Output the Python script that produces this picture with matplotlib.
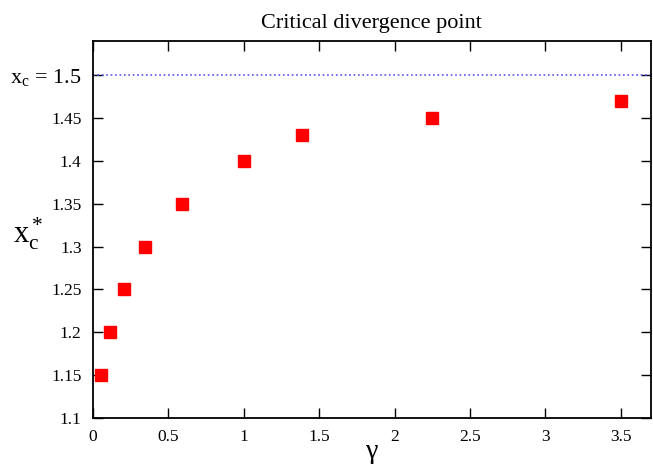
import matplotlib.pyplot as plt

# gamma vs critical divergence point
gamma = [0.055, 0.115, 0.21, 0.345, 0.59, 1.0, 1.39, 2.25, 3.5]
xc_star = [1.15, 1.2, 1.25, 1.3, 1.35, 1.4, 1.43, 1.45, 1.47]
xc_limit = 1.5

x_ticks = [0, 0.5, 1, 1.5, 2, 2.5, 3, 3.5]
x_labels = ['0', '0.5', '1', '1.5', '2', '2.5', '3', '3.5']
y_ticks = [1.1, 1.15, 1.2, 1.25, 1.3, 1.35, 1.4, 1.45, 1.5]
y_labels = ['1.1', '1.15', '1.2', '1.25', '1.3', '1.35', '1.4', '1.45', r'$\mathrm{x_c}$ = 1.5']

plt.rcParams['font.family'] = ['Liberation Serif', 'DejaVu Serif']
plt.rcParams['mathtext.fontset'] = 'custom'
plt.rcParams['mathtext.rm'] = 'Liberation Serif'
plt.rcParams['mathtext.it'] = 'Liberation Serif'

fig = plt.figure(figsize=(6.53, 4.70), dpi=100)
ax = fig.add_axes([0.142, 0.1106, 0.855, 0.8025])

ax.axhline(xc_limit, color='#5555ee', linestyle=':', linewidth=1.2)
ax.plot(gamma, xc_star, 's', color='red', markersize=9, linestyle='none')

ax.set_xlim(0, 3.7)
ax.set_ylim(1.1, 1.54)
ax.set_xticks(x_ticks)
ax.set_xticklabels(x_labels)
ax.set_yticks(y_ticks)
ax.set_yticklabels(y_labels)
ax.tick_params(direction='in', top=True, right=True, length=7, width=1, labelsize=12.5, pad=8)
ax.get_yticklabels()[-1].set_fontsize(16)

for s in ax.spines.values():
    s.set_linewidth(1.3)

ax.set_title('Critical divergence point', fontsize=16, pad=9)
ax.set_xlabel(r'$\mathrm{\gamma}$', fontsize=20, labelpad=-3)
ax.set_ylabel(r'$\mathrm{x_c^*}$', fontsize=22, rotation=0)
ax.yaxis.set_label_coords(-0.115, 0.44)

fig.savefig('out.png', dpi=100)
